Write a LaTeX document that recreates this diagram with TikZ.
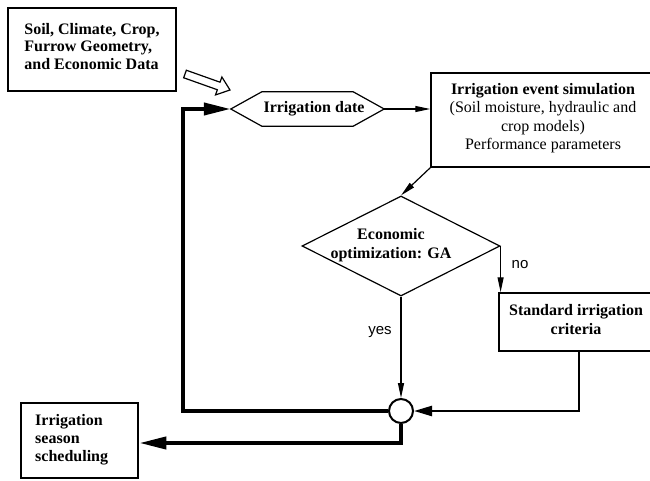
\documentclass[tikz,border=0pt]{standalone}
\usepackage{fontspec}
\setmainfont{Liberation Serif}
\newfontfamily\sansf{Liberation Sans}
\usetikzlibrary{arrows.meta,shapes.geometric,calc}
\begin{document}
\begin{tikzpicture}[x=1pt,y=-1pt,
  txt/.style={font=\fontsize{16}{18.5}\selectfont, inner sep=0pt},
  btxt/.style={txt, font=\fontsize{16}{18.5}\selectfont\bfseries},
  lbl/.style={font=\sansf\fontsize{15}{17}\selectfont, inner sep=0pt},
  boxa/.style={draw, line width=1.5pt, rectangle, inner sep=0pt},
  boxb/.style={draw, line width=2.6pt, rectangle, inner sep=0pt},
  thinar/.style={line width=1.2pt, -{Triangle[length=15pt,width=6pt]}},
  midar/.style={line width=2.4pt, -{Triangle[length=18pt,width=10pt]}},
  bigar/.style={line width=4pt, line join=miter, -{Triangle[length=27pt,width=12pt]}},
  hollow/.style={draw, line width=1.2pt, fill=white, line join=miter}
]
\useasboundingbox (0,0) rectangle (650,481);

% input data box
\node[boxb, minimum width=168pt, minimum height=83pt] (data) at (92,49.5) {};
\node[btxt, align=left, font=\fontsize{16}{17.5}\selectfont\bfseries] (datat) at (92,46.5)
  {Soil, Climate, Crop,\\Furrow Geometry,\\and Economic Data};

% irrigation date hexagon
\node[inner sep=0pt, minimum width=153pt, minimum height=34pt] (date) at (307.5,109) {};
\draw[line width=1.2pt] (date.west) -- ([xshift=31pt]date.north west) -- ([xshift=-31pt]date.north east)
  -- (date.east) -- ([xshift=-31pt]date.south east) -- ([xshift=31pt]date.south west) -- cycle;
\node[btxt] (datet) at (314,108.5) {Irrigation date};

% hollow arrow from data to date
\coordinate (hs) at (185,74);
\coordinate (ht) at (230,90);
\coordinate (hh) at ($(ht)!12pt!(hs)$);
\draw[hollow] ($(hs)!4pt!90:(ht)$) -- ($(hh)!4pt!-90:(hs)$) -- ($(hh)!9.5pt!-90:(hs)$) -- (ht)
  -- ($(hh)!9.5pt!90:(hs)$) -- ($(hh)!4pt!90:(hs)$) -- ($(hs)!4pt!-90:(ht)$) -- cycle;

% simulation box
\node[boxa, minimum width=240pt, minimum height=94pt] (sim) at (551,120) {};
\node[txt, align=center] (simt) at (543,118)
  {\textbf{Irrigation event simulation}\\(Soil moisture, hydraulic and\\crop models)\\Performance parameters};

% diamond
\node[diamond, draw, line width=1.2pt, minimum width=198pt, minimum height=100pt, aspect=1.98, inner sep=0pt]
  (dia) at (401,246) {};
\node[btxt, align=center, font=\fontsize{16}{19}\selectfont\bfseries] (diat) at (391,245)
  {Economic\\optimization: GA};

% standard criteria box
\node[boxa, minimum width=171pt, minimum height=58pt] (std) at (584.5,322) {};
\node[btxt, align=center, font=\fontsize{16}{19}\selectfont\bfseries] (stdt) at (576,319.5)
  {Standard irrigation\\criteria};

% junction circle
\node[circle, draw, line width=2pt, minimum size=24pt, inner sep=0pt, fill=white] (c) at (401,411) {};

% output box
\node[boxb, minimum width=117pt, minimum height=75pt] (out) at (79.5,440.5) {};
\node[btxt, align=left, anchor=west, font=\fontsize{16}{18}\selectfont\bfseries] (outt) at (35,440)
  {Irrigation\\season\\scheduling};

% connectors
\draw[thinar] (date.east) -- (date.east -| sim.west);
\draw[thinar] (sim.south west) -- (dia.north);
\draw[thinar] (dia.east) -- (dia.east |- std.north);
\node[lbl] (no) at (520,265) {no};
\draw[thinar] (dia.south) -- (c.north);
\node[lbl] (yes) at (380,332) {yes};

\coordinate (stdout) at (579,351);
\draw[midar] (stdout) |- (c.east);

\coordinate (fbx) at (183,260);
\draw[bigar] (c.west) -| (fbx) |- (date.west);

\coordinate (outy) at (401,443);
\draw[bigar] (c.south) -- (outy) -- (outy -| out.east);
\end{tikzpicture}
\end{document}
